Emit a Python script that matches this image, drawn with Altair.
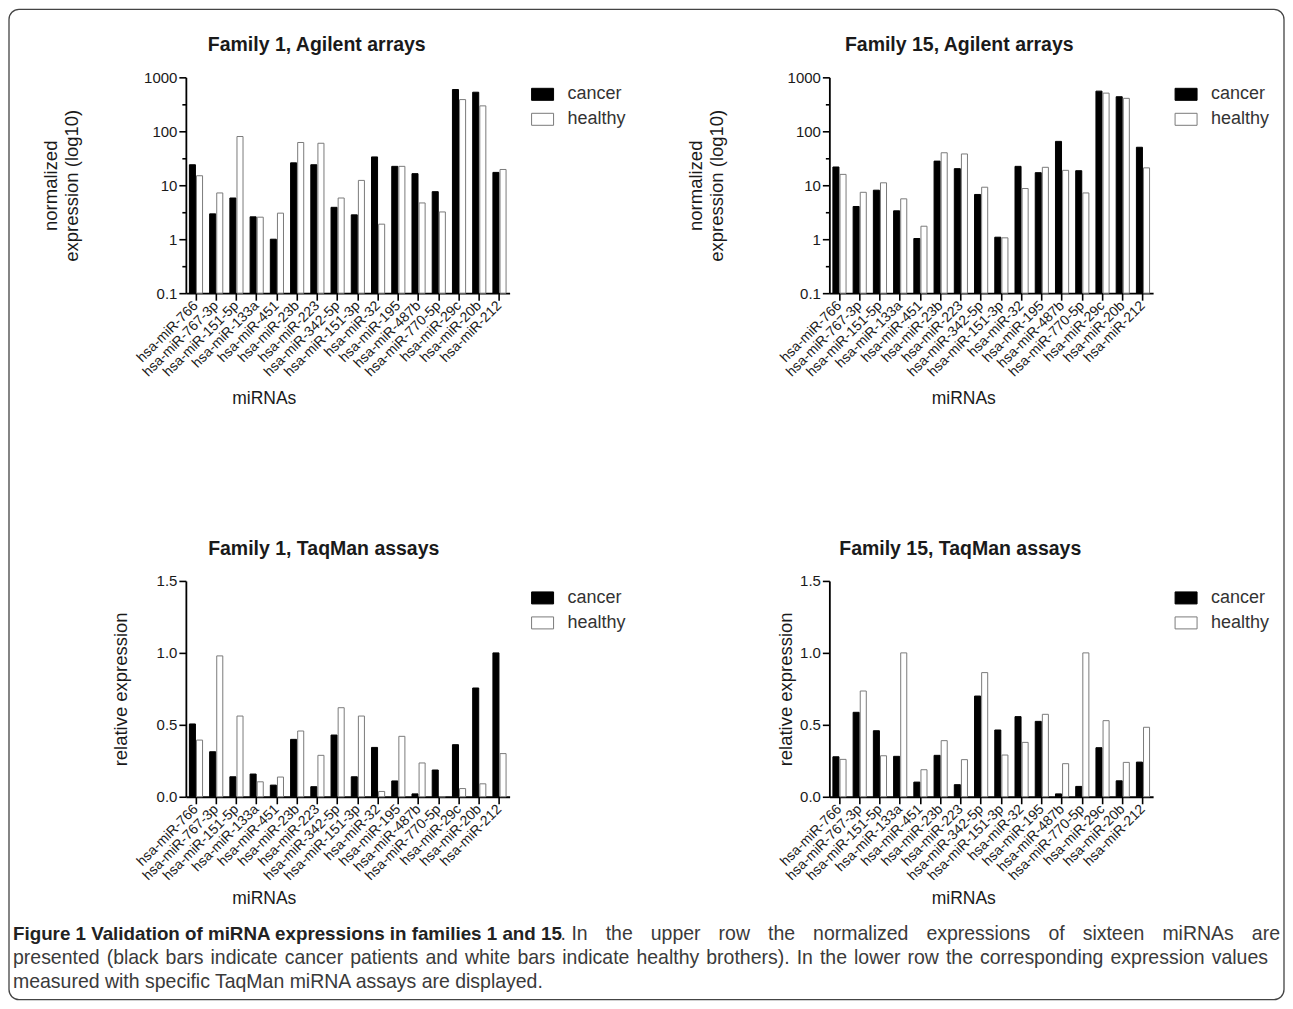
import altair as alt
import pandas as pd

mirnas = ["hsa-miR-766", "hsa-miR-767-3p", "hsa-miR-151-5p", "hsa-miR-133a",
          "hsa-miR-451", "hsa-miR-23b", "hsa-miR-223", "hsa-miR-342-5p",
          "hsa-miR-151-3p", "hsa-miR-32", "hsa-miR-195", "hsa-miR-487b",
          "hsa-miR-770-5p", "hsa-miR-29c", "hsa-miR-20b", "hsa-miR-212"]
groups = ["cancer", "healthy"]

f1_agilent_cancer = [24, 2.95, 5.8, 2.6, 1.0, 26, 24, 3.9, 2.83, 33.5, 22.4, 16.4, 7.6, 594, 530, 17.3]
f1_agilent_healthy = [15, 7.2, 80, 2.56, 3.04, 62, 60, 5.8, 12.3, 1.9, 22.4, 4.7, 3.2, 387, 296, 19.6]
f15_agilent_cancer = [21.8, 4.04, 8.1, 3.36, 1.03, 28, 20.3, 6.75, 1.09, 22.4, 17.1, 65, 18.6, 555, 437, 50.6]
f15_agilent_healthy = [15.9, 7.4, 11.1, 5.6, 1.74, 40, 38, 9.2, 1.06, 8.7, 21.5, 18.9, 7.2, 510, 408, 21]
f1_taqman_cancer = [0.506, 0.313, 0.139, 0.158, 0.081, 0.399, 0.070, 0.429, 0.139, 0.343, 0.11, 0.02, 0.186, 0.362, 0.756, 1.0]
f1_taqman_healthy = [0.394, 0.979, 0.561, 0.104, 0.137, 0.457, 0.288, 0.619, 0.561, 0.037, 0.42, 0.235, 0.0, 0.057, 0.09, 0.30]
f15_taqman_cancer = [0.278, 0.587, 0.459, 0.281, 0.102, 0.288, 0.084, 0.70, 0.464, 0.557, 0.524, 0.02, 0.072, 0.341, 0.111, 0.241]
f15_taqman_healthy = [0.26, 0.735, 0.285, 1.0, 0.188, 0.39, 0.258, 0.863, 0.29, 0.378, 0.573, 0.23, 1.0, 0.529, 0.239, 0.483]

log_ticks = [0.1, 0.3162, 1, 3.162, 10, 31.62, 100, 316.2, 1000]
lin_ticks = [0.0, 0.5, 1.0, 1.5]

caption_bold = "Figure 1 Validation of miRNA expressions in families 1 and 15"
caption_l1 = "In the upper row the normalized expressions of sixteen miRNAs are"
caption_l2 = ("presented (black bars indicate cancer patients and white bars indicate healthy brothers). "
              "In the lower row the corresponding expression values")
caption_l3 = "measured with specific TaqMan miRNA assays are displayed."

FONT = "Liberation Sans"
W, H = 324, 216
one = pd.DataFrame({"k": [0]})

# Arial / Liberation Sans advance widths (per 1000 em) used to justify caption lines
AW = {" ": 278, "a": 556, "b": 556, "c": 500, "d": 556, "e": 556, "f": 278, "g": 556,
      "h": 556, "i": 222, "j": 222, "k": 500, "l": 222, "m": 833, "n": 556, "o": 556,
      "p": 556, "q": 556, "r": 333, "s": 500, "t": 278, "u": 556, "v": 500, "w": 722,
      "x": 500, "y": 500, "z": 500, "A": 667, "I": 278, "M": 833, "N": 722, "R": 722,
      "T": 611, "(": 333, ")": 333, ".": 278}


def tw(s, size):
    return sum(AW.get(c, 556) for c in s) * size / 1000.0


def text_layer(txt, x, y, size, weight="normal", color="#3a3a3a", align="left"):
    return alt.Chart(one).mark_text(align=align, baseline="middle", font=FONT, fontSize=size,
                                    fontWeight=weight, color=color).encode(
        x=alt.value(x), y=alt.value(y), text=alt.value(txt))


def justified(words, x0, x1, y, size):
    widths = [tw(w, size) for w in words]
    gap = (x1 - x0 - sum(widths)) / (len(words) - 1)
    layers, x = [], x0
    for w, wd in zip(words, widths):
        layers.append(text_layer(w, x, y, size))
        x += wd + gap
    return layers


def panel(cancer, healthy, title, log, title_dx, ytitle_x, xtitle_x, xtitle_y):
    df = pd.DataFrame({
        "miRNA": mirnas * 2,
        "group": ["cancer"] * len(mirnas) + ["healthy"] * len(mirnas),
        "value": list(cancer) + list(healthy),
    })
    if log:
        major = "datum.value==0.1||datum.value==1||datum.value==10||datum.value==100||datum.value==1000"
        yaxis = alt.Axis(
            values=log_ticks,
            labelExpr="datum.value==0.1 ? '0.1' : (" + major + ") ? format(datum.value, 'd') : ''",
            tickSize={"condition": {"test": major, "value": 7}, "value": 4},
            title=["normalized", "expression (log10)"],
            titleX=ytitle_x, titleY=H / 2, titleAngle=-90,
            titleAlign="center", titleBaseline="middle", titleLineHeight=21,
        )
        y = alt.Y("value:Q", scale=alt.Scale(type="log", domain=[0.1, 1000]), axis=yaxis, stack=None)
    else:
        yaxis = alt.Axis(
            values=lin_ticks, format=".1f", tickSize=7,
            title="relative expression",
            titleX=ytitle_x, titleY=H / 2, titleAngle=-90,
            titleAlign="center", titleBaseline="middle",
        )
        y = alt.Y("value:Q", scale=alt.Scale(domain=[0, 1.5]), axis=yaxis, stack=None)

    legend = alt.Legend(
        title=None, orient="none", legendX=348, legendY=8,
        symbolType="M-1.833,-1H1.833V1H-1.833Z", symbolSize=144,
        symbolStrokeWidth=1, labelFontSize=18, labelFont=FONT,
        labelColor="#333333", labelOffset=16, rowPadding=7, padding=0,
    )

    enc = dict(
        x=alt.X("miRNA:N", sort=mirnas,
                scale=alt.Scale(paddingInner=0.35, paddingOuter=0.175),
                axis=alt.Axis(labelAngle=-45, labelAlign="right", labelBaseline="middle",
                              labelFontSize=14, labelPadding=3, tickSize=7,
                              title="miRNAs", titleX=xtitle_x, titleY=xtitle_y,
                              titleAlign="center", titleBaseline="middle", titleFontSize=17.5)),
        xOffset=alt.XOffset("group:N", sort=groups,
                            scale=alt.Scale(domain=groups, paddingInner=0.15, paddingOuter=0)),
        y=y,
        fill=alt.Fill("group:N", sort=groups,
                      scale=alt.Scale(domain=groups, range=["#000000", "#ffffff"]),
                      legend=legend),
        stroke=alt.Stroke("group:N", sort=groups,
                          scale=alt.Scale(domain=groups, range=["#000000", "#7a7a7a"]),
                          legend=legend),
    )
    if log:
        enc["y2"] = alt.Y2Datum(0.1)
    bars = alt.Chart(df).mark_bar(strokeWidth=1).encode(**enc).properties(width=W, height=H)
    ttl = text_layer(title, W / 2 + title_dx, -32, 19.5, weight="bold", color="#1a1a1a", align="center")
    return [bars, ttl]


p1 = alt.layer(*panel(f1_agilent_cancer, f1_agilent_healthy, "Family 1, Agilent arrays", True, -31, -135, 78, 105))
p2 = alt.layer(*panel(f15_agilent_cancer, f15_agilent_healthy, "Family 15, Agilent arrays", True, -32, -134, 134, 105))
p4 = alt.layer(*panel(f15_taqman_cancer, f15_taqman_healthy, "Family 15, TaqMan assays", False, -31, -44, 134, 102))

# caption (placed relative to the lower-left panel's plot origin, page x 185 / y 581)
BOLD_SIZE = 18.8
REG_SIZE = 19.5
cap = [text_layer(caption_bold, -173, 353, BOLD_SIZE, weight="bold", color="#222222")]
bold_end = -173 + 548
cap.append(text_layer(".", bold_end, 353, REG_SIZE))
cap += justified(caption_l1.split(" "), bold_end + tw(". ", REG_SIZE), 1095, 353, REG_SIZE)
cap += justified(caption_l2.split(" "), -173, 1083, 377, REG_SIZE)
cap.append(text_layer(caption_l3, -173, 401, REG_SIZE))
border = alt.Chart(one).mark_rect(fillOpacity=0, stroke="#444444", strokeWidth=1.3,
                                  cornerRadius=10).encode(
    x=alt.value(-177), x2=alt.value(1099), y=alt.value(-572), y2=alt.value(419))

p3 = alt.layer(*panel(f1_taqman_cancer, f1_taqman_healthy, "Family 1, TaqMan assays", False, -24, -65, 78, 102),
               *cap, border)

chart = alt.concat(
    p1, p2, p3, p4, columns=2,
    spacing={"row": 288, "column": 320}, bounds="flush",
).resolve_scale(
    fill="independent", stroke="independent",
).properties(
    padding={"left": 0, "top": 0, "right": 0, "bottom": 0},
).configure_view(
    stroke=None,
).configure_axis(
    domainColor="#000000", domainWidth=1.8, tickColor="#000000", tickWidth=1.6,
    labelFont=FONT, labelColor="#1a1a1a", labelFontSize=15,
    titleFont=FONT, titleFontWeight="normal", titleFontSize=18.5, titleColor="#1a1a1a",
    grid=False, zindex=1,
)

chart.save("out.html", embed_options={"renderer": "svg", "actions": False})
